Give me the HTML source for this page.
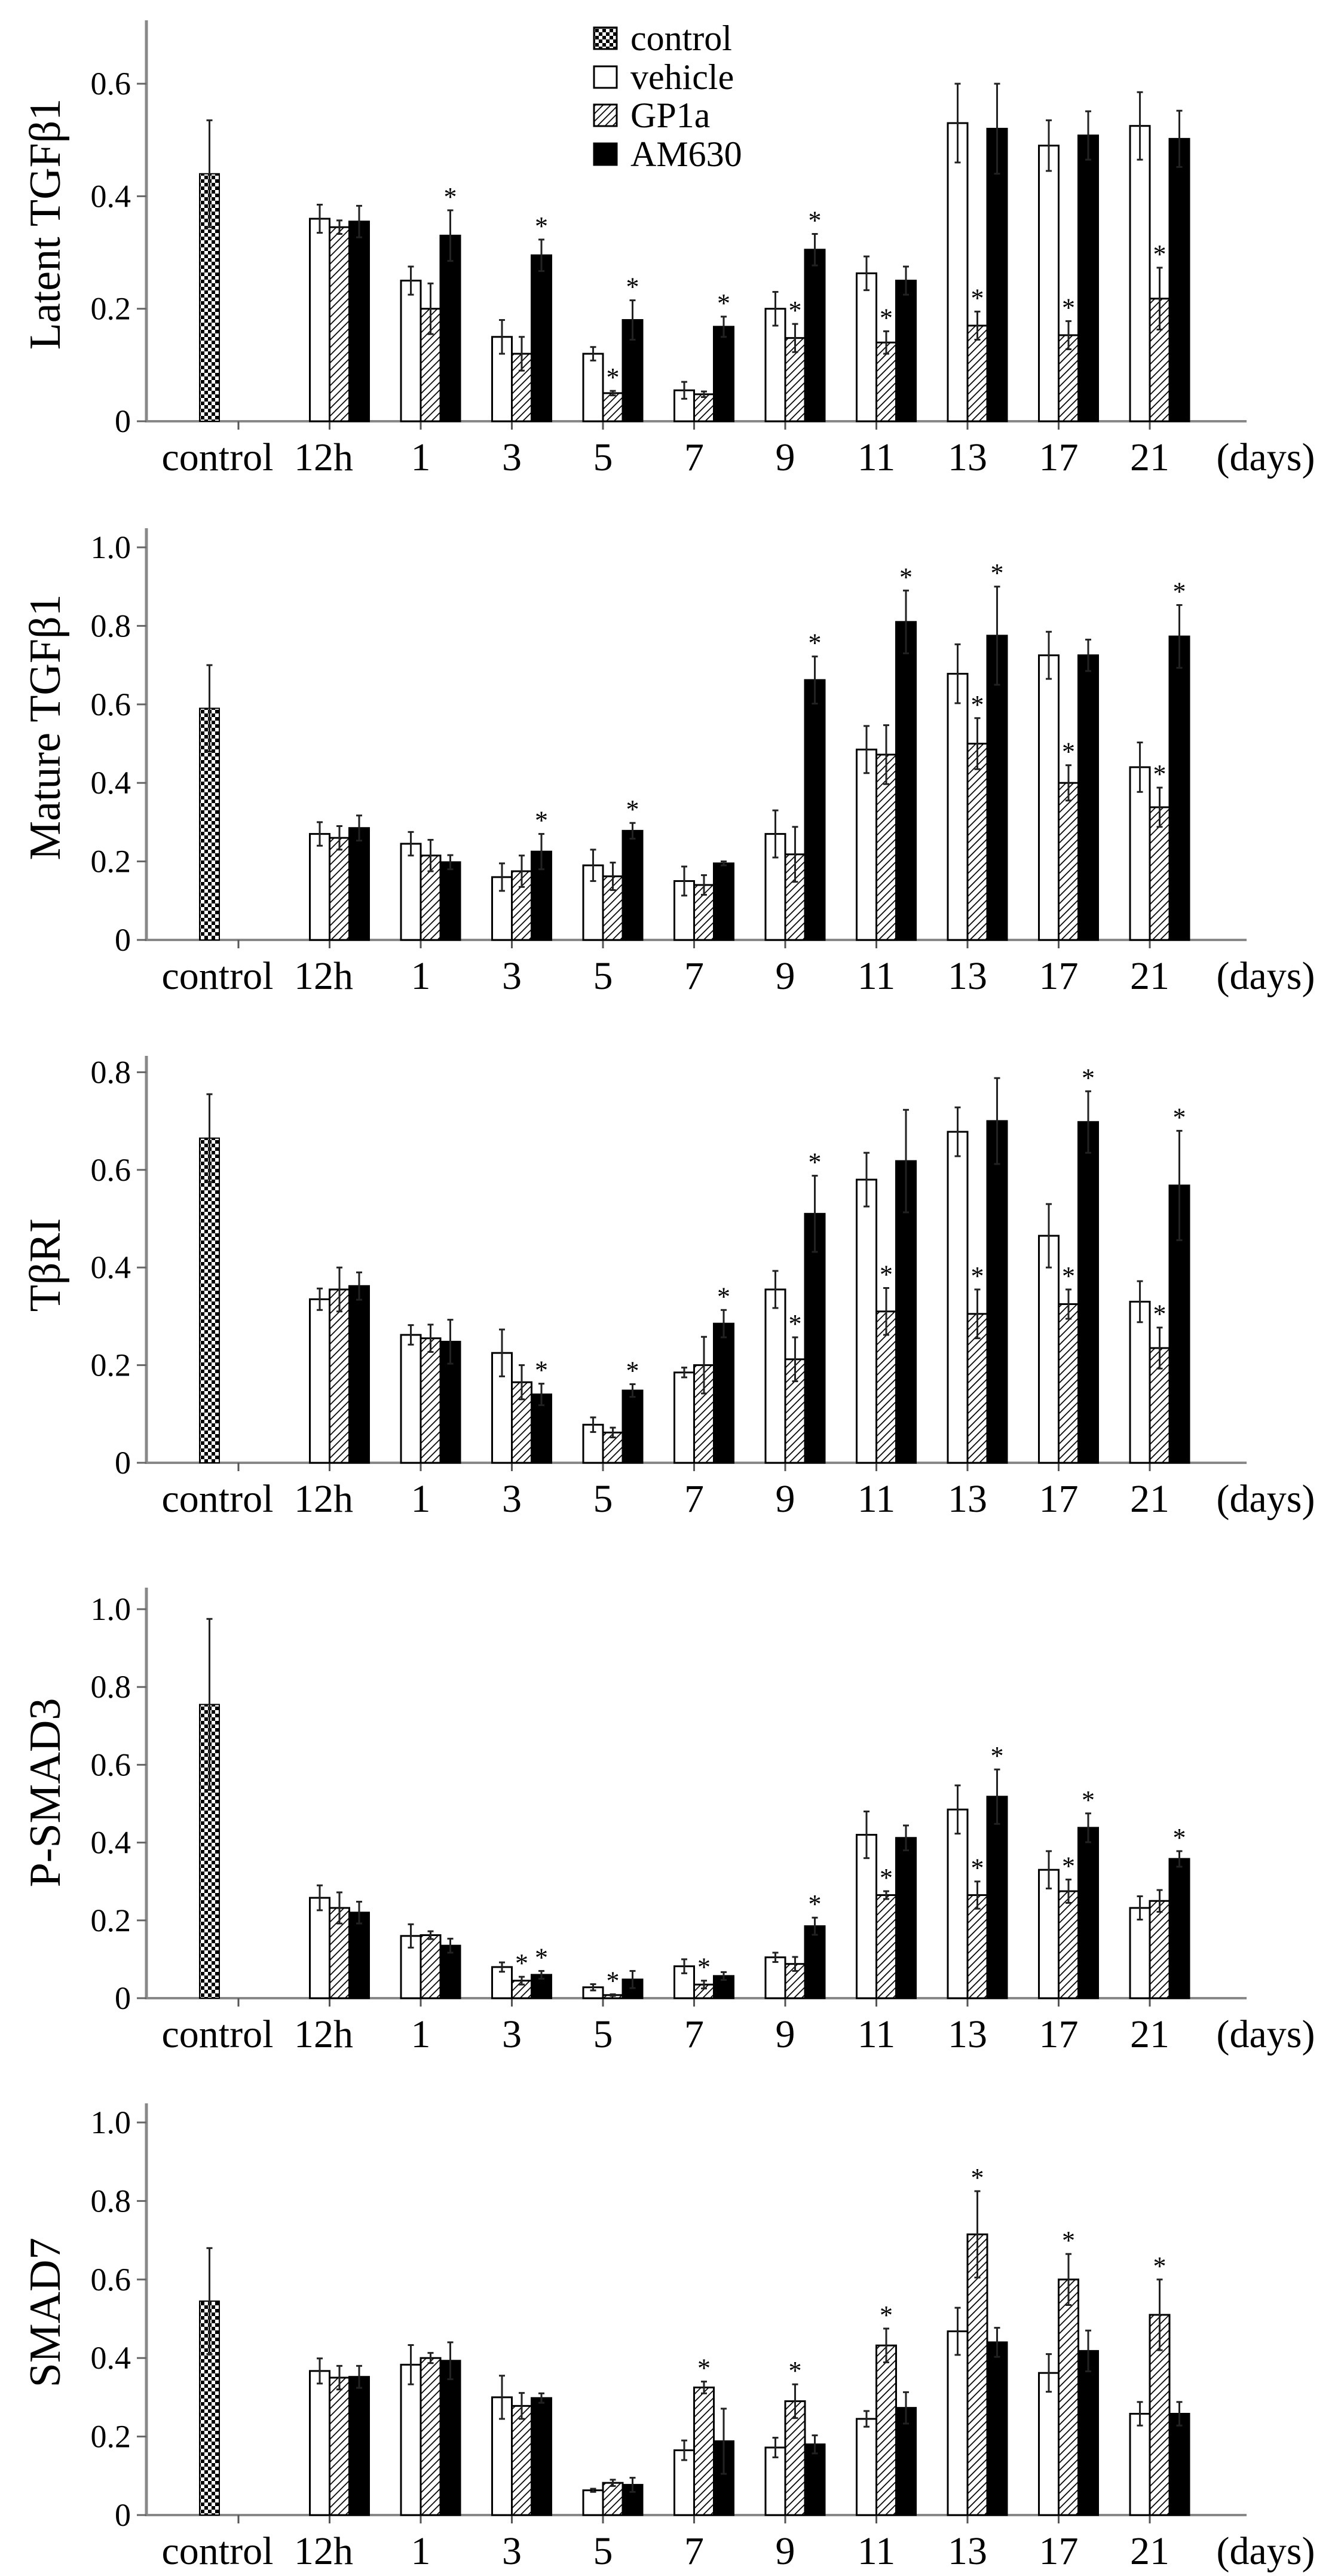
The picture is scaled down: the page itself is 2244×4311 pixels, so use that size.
<!DOCTYPE html>
<html><head><meta charset="utf-8">
<style>
html,body{margin:0;padding:0;background:#fff;}
svg{display:block;}
svg text{font-family:"Liberation Serif","DejaVu Serif",serif;fill:#000;}
</style></head>
<body>
<svg id="fig" width="2244" height="4311" viewBox="0 0 2244 4311" xmlns="http://www.w3.org/2000/svg" font-family="'Liberation Serif', 'DejaVu Serif', serif">
<defs>
<pattern id="checker" width="12" height="12" patternUnits="userSpaceOnUse">
<rect width="12" height="12" fill="#fff"/><rect width="6" height="6" fill="#000"/><rect x="6" y="6" width="6" height="6" fill="#000"/>
</pattern>
<pattern id="hatch" width="9" height="9" patternUnits="userSpaceOnUse" patternTransform="rotate(45)">
<rect width="9" height="9" fill="#fff"/><line x1="0" y1="0" x2="0" y2="9" stroke="#000" stroke-width="3.5"/>
</pattern>
</defs>
<g id="legend">
<rect x="994" y="46" width="38" height="36" fill="url(#checker)" stroke="#000" stroke-width="3"/>
<text x="1055" y="84" font-size="60">control</text>
<rect x="994" y="111" width="38" height="36" fill="#fff" stroke="#000" stroke-width="3"/>
<text x="1055" y="149" font-size="60">vehicle</text>
<rect x="994" y="175" width="38" height="36" fill="url(#hatch)" stroke="#000" stroke-width="3"/>
<text x="1055" y="213" font-size="60">GP1a</text>
<rect x="994" y="240" width="38" height="36" fill="#000" stroke="#000" stroke-width="3"/>
<text x="1055" y="278" font-size="60">AM630</text>
</g>
</svg>
<script>
const categories = ["12h","1","3","5","7","9","11","13","17","21"];
const seriesNames = ["vehicle","GP1a","AM630"];

// Latent TGFb1
const latentControl = [0.44, 0.095];
const latentVehicle = [0.36,0.25,0.15,0.12,0.055,0.20,0.263,0.53,0.49,0.525];
const latentVehicleErr = [0.025,0.025,0.03,0.012,0.015,0.03,0.03,0.07,0.045,0.06];
const latentGP1a = [0.345,0.20,0.12,0.05,0.048,0.148,0.14,0.17,0.153,0.218];
const latentGP1aErr = [0.012,0.045,0.03,0.004,0.005,0.025,0.02,0.025,0.025,0.055];
const latentAM630 = [0.355,0.33,0.295,0.18,0.168,0.305,0.25,0.52,0.508,0.502];
const latentAM630Err = [0.028,0.045,0.028,0.035,0.018,0.028,0.025,0.08,0.043,0.05];
const latentStars = [[0,0,0],[0,0,1],[0,0,1],[0,1,1],[0,0,1],[0,1,1],[0,1,0],[0,1,0],[0,1,0],[0,1,0]];

// Mature TGFb1
const matureControl = [0.59, 0.11];
const matureVehicle = [0.27,0.245,0.16,0.19,0.15,0.27,0.485,0.678,0.725,0.44];
const matureVehicleErr = [0.03,0.03,0.035,0.04,0.037,0.06,0.06,0.075,0.06,0.063];
const matureGP1a = [0.26,0.215,0.175,0.162,0.14,0.218,0.472,0.50,0.40,0.338];
const matureGP1aErr = [0.03,0.04,0.04,0.035,0.025,0.07,0.075,0.065,0.045,0.05];
const matureAM630 = [0.285,0.198,0.225,0.278,0.195,0.662,0.81,0.775,0.725,0.773];
const matureAM630Err = [0.032,0.018,0.045,0.02,0.005,0.06,0.08,0.125,0.04,0.08];
const matureStars = [[0,0,0],[0,0,0],[0,0,1],[0,0,1],[0,0,0],[0,0,1],[0,0,1],[0,1,1],[0,1,0],[0,1,1]];

// TbRI
const tbriControl = [0.665, 0.09];
const tbriVehicle = [0.335,0.262,0.225,0.078,0.185,0.355,0.58,0.678,0.465,0.33];
const tbriVehicleErr = [0.022,0.02,0.048,0.015,0.01,0.038,0.055,0.05,0.065,0.042];
const tbriGP1a = [0.355,0.255,0.165,0.062,0.2,0.212,0.31,0.305,0.325,0.235];
const tbriGP1aErr = [0.045,0.028,0.035,0.01,0.058,0.045,0.048,0.05,0.03,0.042];
const tbriAM630 = [0.362,0.248,0.14,0.148,0.285,0.51,0.618,0.70,0.698,0.568];
const tbriAM630Err = [0.028,0.045,0.022,0.013,0.028,0.078,0.105,0.088,0.063,0.112];
const tbriStars = [[0,0,0],[0,0,0],[0,0,1],[0,0,1],[0,0,1],[0,1,1],[0,1,0],[0,1,0],[0,1,1],[0,1,1]];

// P-SMAD3
const psmadControl = [0.755, 0.22];
const psmadVehicle = [0.258,0.16,0.08,0.028,0.082,0.105,0.42,0.485,0.33,0.232];
const psmadVehicleErr = [0.032,0.03,0.012,0.008,0.018,0.012,0.06,0.062,0.048,0.03];
const psmadGP1a = [0.232,0.162,0.045,0.008,0.035,0.088,0.265,0.265,0.275,0.25];
const psmadGP1aErr = [0.04,0.01,0.01,0.002,0.01,0.018,0.01,0.035,0.03,0.028];
const psmadAM630 = [0.22,0.135,0.06,0.048,0.057,0.185,0.412,0.518,0.438,0.358];
const psmadAM630Err = [0.028,0.018,0.01,0.022,0.01,0.022,0.032,0.07,0.037,0.02];
const psmadStars = [[0,0,0],[0,0,0],[0,1,1],[0,1,0],[0,1,0],[0,0,1],[0,1,0],[0,1,1],[0,1,1],[0,0,1]];

// SMAD7
const smad7Control = [0.545, 0.135];
const smad7Vehicle = [0.367,0.383,0.3,0.063,0.165,0.172,0.245,0.468,0.362,0.258];
const smad7VehicleErr = [0.032,0.05,0.055,0.004,0.025,0.025,0.02,0.06,0.048,0.03];
const smad7GP1a = [0.35,0.4,0.278,0.082,0.325,0.29,0.432,0.715,0.6,0.51];
const smad7GP1aErr = [0.03,0.013,0.033,0.008,0.015,0.043,0.043,0.11,0.065,0.09];
const smad7AM630 = [0.352,0.393,0.298,0.077,0.188,0.18,0.273,0.44,0.418,0.258];
const smad7AM630Err = [0.028,0.047,0.012,0.018,0.083,0.023,0.04,0.037,0.052,0.03];
const smad7Stars = [[0,0,0],[0,0,0],[0,0,0],[0,0,0],[0,1,0],[0,1,0],[0,1,0],[0,1,0],[0,1,0],[0,1,0]];

const latentTicks = ["0","0.2","0.4","0.6"];
const matureTicks = ["0","0.2","0.4","0.6","0.8","1.0"];
const tbriTicks = ["0","0.2","0.4","0.6","0.8"];
const psmadTicks = ["0","0.2","0.4","0.6","0.8","1.0"];
const smad7Ticks = ["0","0.2","0.4","0.6","0.8","1.0"];

const panels = [
 {name:"latent-tgfb1", title:"Latent TGFβ1", zero:705, perUnit:941.5, top:34, ticks:latentTicks, ctrl:latentControl,
  vals:[latentVehicle,latentGP1a,latentAM630], errs:[latentVehicleErr,latentGP1aErr,latentAM630Err], stars:latentStars, titleY:375},
 {name:"mature-tgfb1", title:"Mature TGFβ1", zero:1573, perUnit:657, top:884, ticks:matureTicks, ctrl:matureControl,
  vals:[matureVehicle,matureGP1a,matureAM630], errs:[matureVehicleErr,matureGP1aErr,matureAM630Err], stars:matureStars, titleY:1217},
 {name:"tbri", title:"TβRI", zero:2448, perUnit:817, top:1767, ticks:tbriTicks, ctrl:tbriControl,
  vals:[tbriVehicle,tbriGP1a,tbriAM630], errs:[tbriVehicleErr,tbriGP1aErr,tbriAM630Err], stars:tbriStars, titleY:2117},
 {name:"p-smad3", title:"P-SMAD3", zero:3344, perUnit:651, top:2657, ticks:psmadTicks, ctrl:psmadControl,
  vals:[psmadVehicle,psmadGP1a,psmadAM630], errs:[psmadVehicleErr,psmadGP1aErr,psmadAM630Err], stars:psmadStars, titleY:3000},
 {name:"smad7", title:"SMAD7", zero:4209, perUnit:657, top:3520, ticks:smad7Ticks, ctrl:smad7Control,
  vals:[smad7Vehicle,smad7GP1a,smad7AM630], errs:[smad7VehicleErr,smad7GP1aErr,smad7AM630Err], stars:smad7Stars, titleY:3870}
];

const NS = "http://www.w3.org/2000/svg";
const svg = document.getElementById("fig");
const AXIS_X = 245, AXIS_END = 2086, TICK0 = 399, STEP = 152.5, BW = 33;
const fills = ["#fff","url(#hatch)","#000"];
function mk(tag, attrs, parent){
  const e = document.createElementNS(NS, tag);
  for (const k in attrs) e.setAttribute(k, attrs[k]);
  (parent||svg).appendChild(e);
  return e;
}
function xTick(i){ return TICK0 + i*STEP; }

panels.forEach(p => {
  const yScale = v => p.zero - v*p.perUnit;
  const g = mk("g", {});
  
  

  const t = mk("text", {x:0, y:0, "font-size":74, "text-anchor":"middle", transform:`translate(100,${p.titleY}) rotate(-90)`}, g);
  t.textContent = p.title;
  
  

  const ya = mk("line", {x1:AXIS_X, y1:p.top, x2:AXIS_X, y2:p.zero+2, stroke:"#888", "stroke-width":5}, g);
  
  
  p.ticks.forEach((lab, k) => {
    const y = yScale(k*0.2);
    mk("line", {x1:AXIS_X-16, y1:y, x2:AXIS_X, y2:y, stroke:"#666", "stroke-width":3}, g);
    const tl = mk("text", {x:219, y:y+18, "font-size":54, "text-anchor":"end"}, g);
    tl.textContent = lab;
    
    
  });
  const xa = mk("line", {x1:AXIS_X, y1:p.zero, x2:AXIS_END, y2:p.zero, stroke:"#888", "stroke-width":4}, g);
  
  
  for (let i=0;i<=categories.length;i++){
    mk("line", {x1:xTick(i), y1:p.zero, x2:xTick(i), y2:p.zero+14, stroke:"#555", "stroke-width":3}, g);
  }
  const labels = ["control"].concat(categories);
  labels.forEach((lab,i) => {
    const cx = i===0 ? 364 : xTick(i)+ (i===1?-10:0);
    const tl = mk("text", {x:cx, y:p.zero+82, "font-size":66, "text-anchor":"middle"}, g);
    tl.textContent = lab;
    
    
  });
  const dl = mk("text", {x:2118, y:p.zero+82, "font-size":66, "text-anchor":"middle"}, g);
  dl.textContent = "(days)";
  
  

  function errBar(x, v, e){
    const y1 = yScale(v+e), y2 = yScale(Math.max(0,v-e));
    mk("line", {x1:x, y1:y1, x2:x, y2:y2, stroke:"#222", "stroke-width":3}, g);
    mk("line", {x1:x-5, y1:y1, x2:x+5, y2:y1, stroke:"#222", "stroke-width":3}, g);
    mk("line", {x1:x-5, y1:y2, x2:x+5, y2:y2, stroke:"#222", "stroke-width":3}, g);
  }
  const cb = mk("rect", {x:TICK0-65, y:yScale(p.ctrl[0]), width:BW, height:p.ctrl[0]*p.perUnit, fill:"url(#checker)", stroke:"#000", "stroke-width":2}, g);
  
  
  errBar(TICK0-65+BW/2, p.ctrl[0], p.ctrl[1]);

  categories.forEach((c, i) => {
    for (let s=0;s<3;s++){
      const v = p.vals[s][i], e = p.errs[s][i];
      const x = xTick(i+1) - BW + s*BW;
      const r = mk("rect", {x:x, y:yScale(v), width:BW, height:v*p.perUnit, fill:fills[s], stroke:"#000", "stroke-width":3}, g);
      
      
      errBar(x+BW/2, v, e);
      if (p.stars[i][s]){
        const st = mk("text", {x:x+BW/2, y:yScale(v+e)-8, "font-size":44, "text-anchor":"middle"}, g);
        st.textContent = "*";
        
        
      }
    }
  });
});
</script>
</body></html>
